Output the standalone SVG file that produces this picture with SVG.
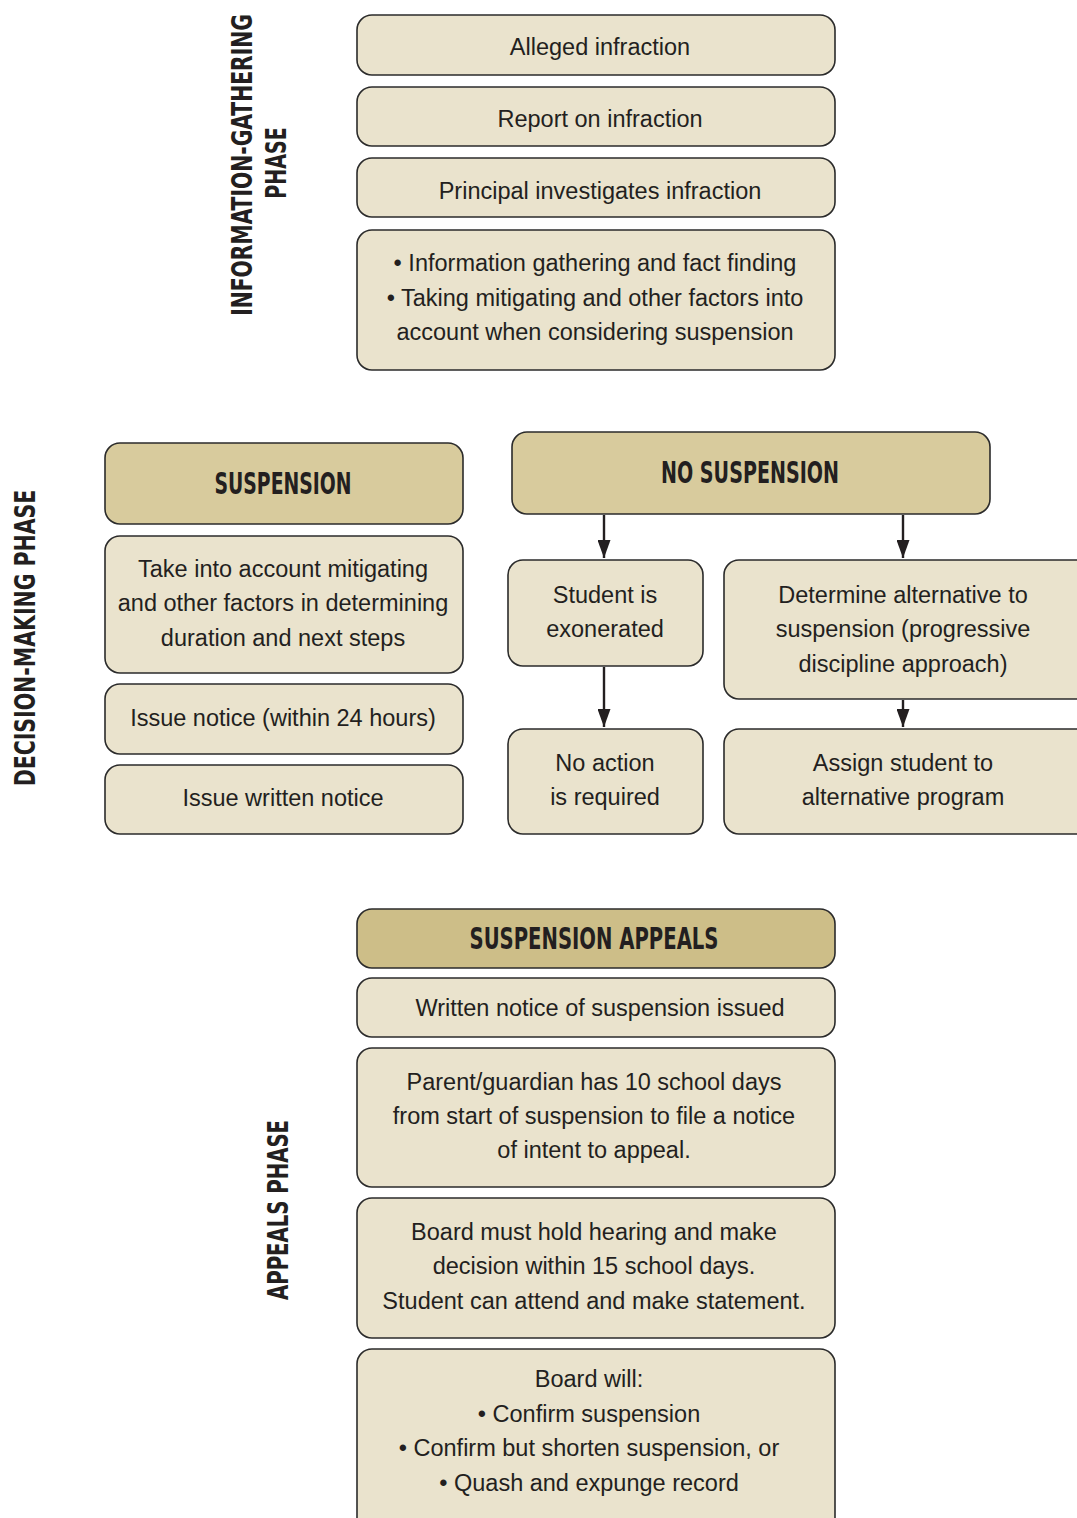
<svg xmlns="http://www.w3.org/2000/svg" width="1077" height="1518" viewBox="0 0 1077 1518">
<style>
.box{fill:#EAE3CD;stroke:#2b2b2b;stroke-width:1.6}
.hdr{fill:#D8CB9D;stroke:#2b2b2b;stroke-width:1.6}
.hdr2{fill:#CDBE88;stroke:#2b2b2b;stroke-width:1.6}
.t{font-family:"Liberation Sans",Arial,sans-serif;font-size:23.5px;fill:#231F20;text-anchor:middle}
.h{font-family:"DejaVu Sans Condensed","DejaVu Sans",sans-serif;font-weight:bold;font-size:31px;fill:#231F20;text-anchor:middle}
.v{font-family:"DejaVu Sans Condensed","DejaVu Sans",sans-serif;font-weight:bold;font-size:28px;fill:#231F20;text-anchor:middle}
.c{stroke:#231F20;stroke-width:2.4;fill:none}
</style>
<defs>
<marker id="ah" viewBox="0 0 18 13" refX="18" refY="6.5" markerWidth="18" markerHeight="13" markerUnits="userSpaceOnUse" orient="auto">
<path d="M0,0 L18,6.5 L0,13 z" fill="#231F20"/>
</marker>
</defs>

<g id="labels">
<text class="v" transform="translate(252,165) rotate(-90) scale(0.72,1)" textLength="419" lengthAdjust="spacingAndGlyphs">INFORMATION-GATHERING</text>
<text class="v" transform="translate(286,163) rotate(-90) scale(0.72,1)" textLength="99" lengthAdjust="spacingAndGlyphs">PHASE</text>
<text class="v" transform="translate(35,638) rotate(-90) scale(0.72,1)" textLength="412" lengthAdjust="spacingAndGlyphs">DECISION-MAKING PHASE</text>
<text class="v" transform="translate(288,1210) rotate(-90) scale(0.72,1)" textLength="250" lengthAdjust="spacingAndGlyphs">APPEALS PHASE</text>
</g>

<g id="connectors">
<line class="c" x1="604" y1="515" x2="604" y2="558" marker-end="url(#ah)"/>
<line class="c" x1="903" y1="515" x2="903" y2="558" marker-end="url(#ah)"/>
<line class="c" x1="604" y1="667" x2="604" y2="727" marker-end="url(#ah)"/>
<line class="c" x1="903" y1="700" x2="903" y2="727" marker-end="url(#ah)"/>
</g>

<g id="n1"><rect class="box" x="357" y="15" width="478" height="60" rx="15"/><text class="t" x="600" y="55">Alleged infraction</text></g>
<g id="n2"><rect class="box" x="357" y="87" width="478" height="59" rx="15"/><text class="t" x="600" y="127">Report on infraction</text></g>
<g id="n3"><rect class="box" x="357" y="158" width="478" height="59" rx="15"/><text class="t" x="600" y="199">Principal investigates infraction</text></g>
<g id="n4"><rect class="box" x="357" y="230" width="478" height="140" rx="15"/>
<text class="t" x="595" y="271">• Information gathering and fact finding</text>
<text class="t" x="595" y="306">• Taking mitigating and other factors into</text>
<text class="t" x="595" y="340">account when considering suspension</text></g>

<g id="susp"><rect class="hdr" x="105" y="443" width="358" height="81" rx="15"/><text class="h" x="283" y="494" textLength="137" lengthAdjust="spacingAndGlyphs">SUSPENSION</text></g>
<g id="s1"><rect class="box" x="105" y="536" width="358" height="137" rx="15"/>
<text class="t" x="283" y="577">Take into account mitigating</text>
<text class="t" x="283" y="611">and other factors in determining</text>
<text class="t" x="283" y="646">duration and next steps</text></g>
<g id="s2"><rect class="box" x="105" y="684" width="358" height="70" rx="15"/><text class="t" x="283" y="726">Issue notice (within 24 hours)</text></g>
<g id="s3"><rect class="box" x="105" y="765" width="358" height="69" rx="15"/><text class="t" x="283" y="806">Issue written notice</text></g>

<g id="nosusp"><rect class="hdr" x="512" y="432" width="478" height="82" rx="15"/><text class="h" x="750" y="483" textLength="178" lengthAdjust="spacingAndGlyphs">NO SUSPENSION</text></g>
<g id="ns1"><rect class="box" x="508" y="560" width="195" height="106" rx="15"/>
<text class="t" x="605" y="603">Student is</text><text class="t" x="605" y="637">exonerated</text></g>
<g id="ns2"><rect class="box" x="724" y="560" width="370" height="139" rx="15"/>
<text class="t" x="903" y="603">Determine alternative to</text>
<text class="t" x="903" y="637">suspension (progressive</text>
<text class="t" x="903" y="672">discipline approach)</text></g>
<g id="ns3"><rect class="box" x="508" y="729" width="195" height="105" rx="15"/>
<text class="t" x="605" y="771">No action</text><text class="t" x="605" y="805">is required</text></g>
<g id="ns4"><rect class="box" x="724" y="729" width="370" height="105" rx="15"/>
<text class="t" x="903" y="771">Assign student to</text><text class="t" x="903" y="805">alternative program</text></g>

<g id="app"><rect class="hdr2" x="357" y="909" width="478" height="59" rx="15"/><text class="h" x="594" y="949" textLength="249" lengthAdjust="spacingAndGlyphs">SUSPENSION APPEALS</text></g>
<g id="a1"><rect class="box" x="357" y="978" width="478" height="59" rx="15"/><text class="t" x="600" y="1016">Written notice of suspension issued</text></g>
<g id="a2"><rect class="box" x="357" y="1048" width="478" height="139" rx="15"/>
<text class="t" x="594" y="1090">Parent/guardian has 10 school days</text>
<text class="t" x="594" y="1124">from start of suspension to file a notice</text>
<text class="t" x="594" y="1158">of intent to appeal.</text></g>
<g id="a3"><rect class="box" x="357" y="1198" width="478" height="140" rx="15"/>
<text class="t" x="594" y="1240">Board must hold hearing and make</text>
<text class="t" x="594" y="1274">decision within 15 school days.</text>
<text class="t" x="594" y="1309">Student can attend and make statement.</text></g>
<g id="a4"><rect class="box" x="357" y="1349" width="478" height="185" rx="15"/>
<text class="t" x="589" y="1387">Board will:</text>
<text class="t" x="589" y="1422">• Confirm suspension</text>
<text class="t" x="589" y="1456">• Confirm but shorten suspension, or</text>
<text class="t" x="589" y="1491">• Quash and expunge record</text></g>
</svg>
